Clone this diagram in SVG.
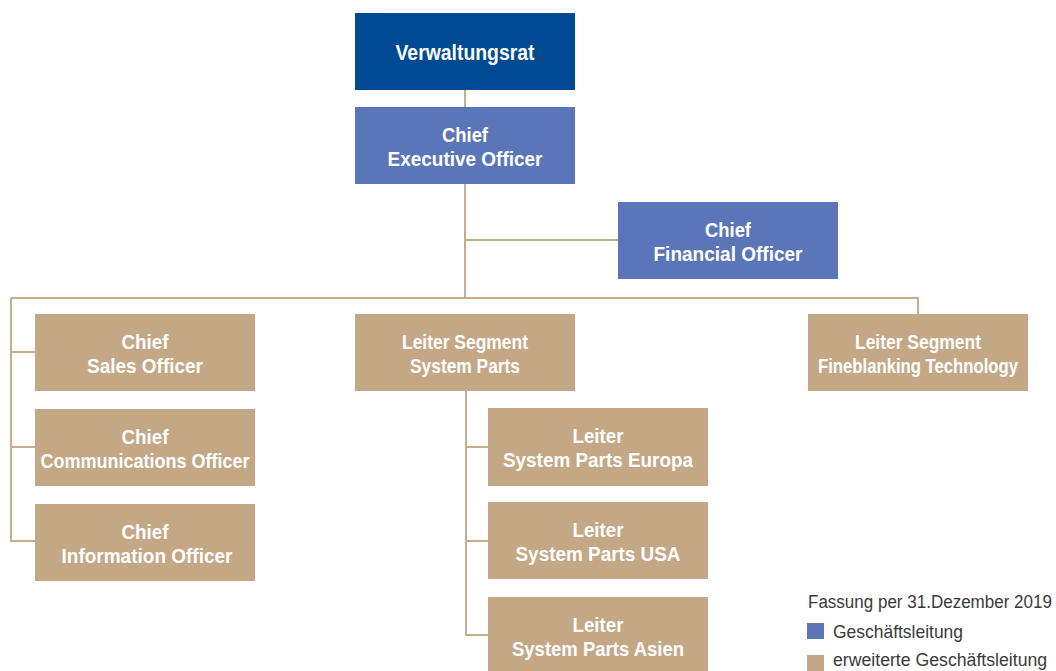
<svg xmlns="http://www.w3.org/2000/svg" width="1056" height="671" viewBox="0 0 1056 671">
<style>
.dark{fill:#004a94}
.blue{fill:#5a76b8}
.tan{fill:#c4a886}
.t{font-family:"Liberation Sans",Arial,sans-serif;font-weight:bold;font-size:21px;fill:#ffffff;text-anchor:middle}
.lg{font-family:"Liberation Sans",Arial,sans-serif;font-size:19px;fill:#3a3a3a}
.c{fill:none;stroke:#c8ad8b;stroke-width:2}
</style>
<rect width="1056" height="671" fill="#ffffff"/>
<g id="connectors">
<path class="c" d="M465 90V298"/>
<path class="c" d="M465 240H618"/>
<path class="c" d="M11 298H918V314"/>
<path class="c" d="M11 298V541H35"/>
<path class="c" d="M11 352H35"/>
<path class="c" d="M11 447H35"/>
<path class="c" d="M466 391V635H488"/>
<path class="c" d="M466 447H488"/>
<path class="c" d="M466 541H488"/>
</g>
<g id="verwaltungsrat">
<rect class="dark" x="355" y="13" width="220" height="77"/>
<text class="t" x="465" y="60" style="font-size:22px" textLength="139" lengthAdjust="spacingAndGlyphs">Verwaltungsrat</text>
</g>
<g id="ceo">
<rect class="blue" x="355" y="107" width="220" height="77"/>
<text class="t" x="465" y="142" textLength="46" lengthAdjust="spacingAndGlyphs">Chief</text>
<text class="t" x="465" y="166" textLength="155" lengthAdjust="spacingAndGlyphs">Executive Officer</text>
</g>
<g id="cfo">
<rect class="blue" x="618" y="202" width="220" height="77"/>
<text class="t" x="728" y="237" textLength="46" lengthAdjust="spacingAndGlyphs">Chief</text>
<text class="t" x="728" y="261" textLength="149" lengthAdjust="spacingAndGlyphs">Financial Officer</text>
</g>
<g id="cso">
<rect class="tan" x="35" y="314" width="220" height="77"/>
<text class="t" x="145" y="349" textLength="47" lengthAdjust="spacingAndGlyphs">Chief</text>
<text class="t" x="145" y="373" textLength="116" lengthAdjust="spacingAndGlyphs">Sales Officer</text>
</g>
<g id="cco">
<rect class="tan" x="35" y="409" width="220" height="77"/>
<text class="t" x="145" y="444" textLength="47" lengthAdjust="spacingAndGlyphs">Chief</text>
<text class="t" x="145" y="468" textLength="209" lengthAdjust="spacingAndGlyphs">Communications Officer</text>
</g>
<g id="cio">
<rect class="tan" x="35" y="504" width="220" height="77"/>
<text class="t" x="145" y="539" textLength="47" lengthAdjust="spacingAndGlyphs">Chief</text>
<text class="t" x="147" y="563" textLength="171" lengthAdjust="spacingAndGlyphs">Information Officer</text>
</g>
<g id="segment-system-parts">
<rect class="tan" x="355" y="314" width="220" height="77"/>
<text class="t" x="465" y="349" textLength="126" lengthAdjust="spacingAndGlyphs">Leiter Segment</text>
<text class="t" x="465" y="373" textLength="110" lengthAdjust="spacingAndGlyphs">System Parts</text>
</g>
<g id="segment-fineblanking">
<rect class="tan" x="808" y="314" width="220" height="77"/>
<text class="t" x="918" y="349" textLength="126" lengthAdjust="spacingAndGlyphs">Leiter Segment</text>
<text class="t" transform="translate(918 373) scale(0.8 1)" x="0" y="0" textLength="250" lengthAdjust="spacingAndGlyphs">Fineblanking Technology</text>
</g>
<g id="sp-europa">
<rect class="tan" x="488" y="408" width="220" height="78"/>
<text class="t" x="598" y="443" textLength="51" lengthAdjust="spacingAndGlyphs">Leiter</text>
<text class="t" x="598" y="467" textLength="190" lengthAdjust="spacingAndGlyphs">System Parts Europa</text>
</g>
<g id="sp-usa">
<rect class="tan" x="488" y="502" width="220" height="77"/>
<text class="t" x="598" y="537" textLength="51" lengthAdjust="spacingAndGlyphs">Leiter</text>
<text class="t" x="598" y="561" textLength="165" lengthAdjust="spacingAndGlyphs">System Parts USA</text>
</g>
<g id="sp-asien">
<rect class="tan" x="488" y="597" width="220" height="77"/>
<text class="t" x="598" y="632" textLength="51" lengthAdjust="spacingAndGlyphs">Leiter</text>
<text class="t" x="598" y="656" textLength="172" lengthAdjust="spacingAndGlyphs">System Parts Asien</text>
</g>
<g id="legend">
<text class="lg" transform="translate(808 608) scale(0.9 1)" x="0" y="0" textLength="271" lengthAdjust="spacingAndGlyphs">Fassung per 31.Dezember 2019</text>
<rect class="blue" x="807" y="623" width="17" height="16"/>
<text class="lg" x="833" y="638" textLength="130" lengthAdjust="spacingAndGlyphs">Geschäftsleitung</text>
<rect class="tan" x="807" y="655" width="17" height="16"/>
<text class="lg" transform="translate(833 666) scale(0.9 1)" x="0" y="0" textLength="238" lengthAdjust="spacingAndGlyphs">erweiterte Geschäftsleitung</text>
</g>
</svg>
